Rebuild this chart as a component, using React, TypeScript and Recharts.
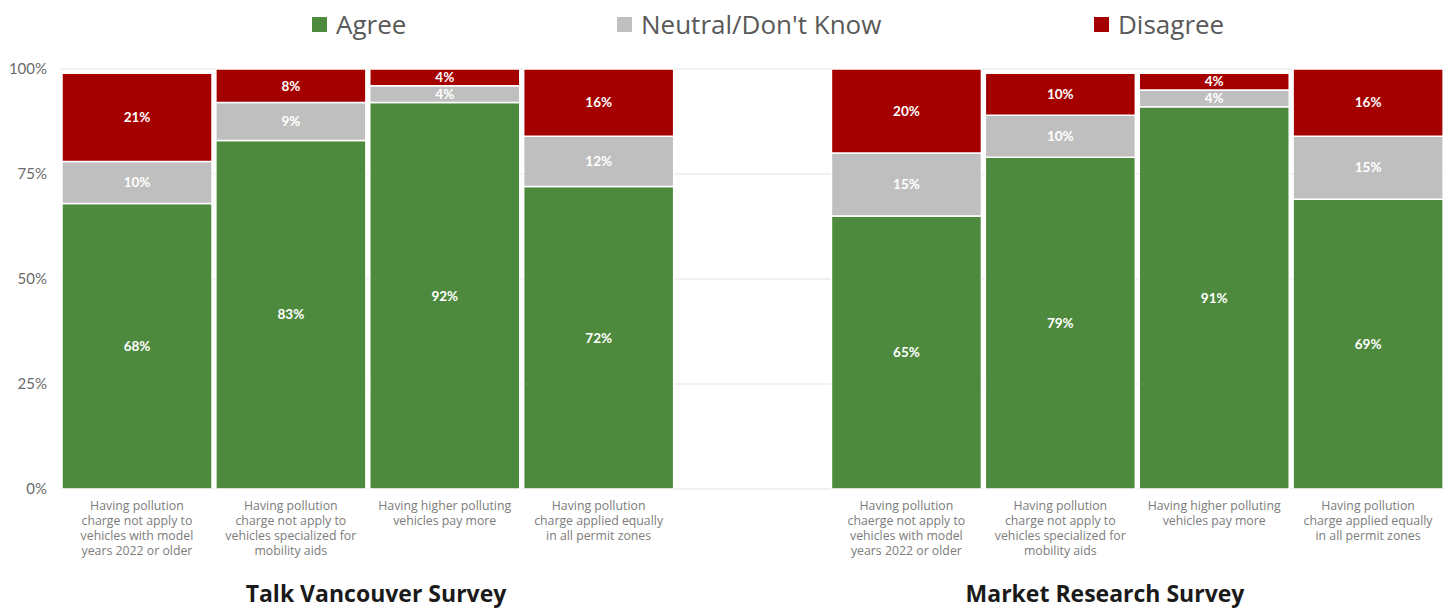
import React from "react";
import { BarChart, Bar, XAxis, YAxis, CartesianGrid, LabelList } from "recharts";

const keys = ["tv1", "tv2", "tv3", "tv4", "gap", "mr1", "mr2", "mr3", "mr4"];
const categories = [
  "Having pollution\ncharge not apply to\nvehicles with model\nyears 2022 or older",
  "Having pollution\ncharge not apply to\nvehicles specialized for\nmobility aids",
  "Having higher polluting\nvehicles pay more",
  "Having pollution\ncharge applied equally\nin all permit zones",
  "",
  "Having pollution\nchaerge not apply to\nvehicles with model\nyears 2022 or older",
  "Having pollution\ncharge not apply to\nvehicles specialized for\nmobility aids",
  "Having higher polluting\nvehicles pay more",
  "Having pollution\ncharge applied equally\nin all permit zones",
];
const agree = [68, 83, 92, 72, null, 65, 79, 91, 69];
const neutral = [10, 9, 4, 12, null, 15, 10, 4, 15];
const disagree = [21, 8, 4, 16, null, 20, 10, 4, 16];
const yTicks = [0, 25, 50, 75, 100];
const surveyTitles = ["Talk Vancouver Survey", "Market Research Survey"];
const legendNames = ["Agree", "Neutral/Don't Know", "Disagree"];

const GREEN = "#4e8a3e";
const GRAY = "#bfbfbf";
const RED = "#a50000";
const legendColors = [GREEN, GRAY, RED];

const data = keys.map((k, i) => ({
  key: k,
  agree: agree[i],
  neutral: neutral[i],
  disagree: disagree[i],
}));

const labelFor = (k: string) => categories[keys.indexOf(k)] || "";

const XTick = (props: any) => {
  const { x, y, payload } = props;
  const lines = labelFor(payload.value).split("\n").filter((l) => l.length);
  return (
    <g>
      {lines.map((l, i) => (
        <text
          key={i}
          x={x}
          y={y + 13 + i * 15}
          textAnchor="middle"
          fill="#7c7c7c"
          fontSize={12.3}
          fontFamily="'Open Sans', sans-serif"
        >
          {l}
        </text>
      ))}
    </g>
  );
};

const pct = (v: any) => (v == null ? "" : `${v}%`);

export default function App() {
  const legendLeft = [312, 617, 1094];
  const titleCenters = [376, 1105];
  return (
    <div
      style={{
        position: "fixed",
        left: 0,
        top: 0,
        width: 1455,
        height: 608,
        background: "#fff",
        overflow: "hidden",
      }}
    >
      {legendNames.map((n, i) => (
        <div
          key={n}
          style={{
            position: "absolute",
            left: legendLeft[i],
            top: 6,
            height: 36,
            display: "flex",
            alignItems: "center",
            fontFamily: "'Open Sans', sans-serif",
            fontSize: 26,
            color: "#595959",
            whiteSpace: "nowrap",
          }}
        >
          <span
            style={{
              display: "inline-block",
              width: 15,
              height: 15,
              background: legendColors[i],
              marginRight: 9,
            }}
          />
          {n}
        </div>
      ))}
      <BarChart
        width={1455}
        height={608}
        data={data}
        margin={{ top: 69, right: 10, bottom: 39, left: 10 }}
        barCategoryGap={2}
      >
        <CartesianGrid vertical={false} stroke="#e3e3e3" />
        <XAxis
          dataKey="key"
          axisLine={false}
          tickLine={false}
          interval={0}
          height={80}
          tick={<XTick />}
        />
        <YAxis
          domain={[0, 100]}
          ticks={yTicks}
          width={50}
          axisLine={false}
          tickLine={false}
          tickMargin={7}
          tickFormatter={(v: number) => `${v}%`}
          tick={{ fill: "#6a6a6a", fontSize: 15, fontFamily: "Lato, sans-serif" }}
        />
        <Bar dataKey="agree" stackId="s" fill={GREEN} stroke="#fff" strokeWidth={1.5} isAnimationActive={false}>
          <LabelList dataKey="agree" position="center" formatter={pct} fill="#fff" fontSize={13.5} fontWeight={700} fontFamily="Lato, sans-serif" />
        </Bar>
        <Bar dataKey="neutral" stackId="s" fill={GRAY} stroke="#fff" strokeWidth={1.5} isAnimationActive={false}>
          <LabelList dataKey="neutral" position="center" formatter={pct} fill="#fff" fontSize={13.5} fontWeight={700} fontFamily="Lato, sans-serif" />
        </Bar>
        <Bar dataKey="disagree" stackId="s" fill={RED} stroke="#fff" strokeWidth={1.5} isAnimationActive={false}>
          <LabelList dataKey="disagree" position="center" formatter={pct} fill="#fff" fontSize={13.5} fontWeight={700} fontFamily="Lato, sans-serif" />
        </Bar>
      </BarChart>
      {surveyTitles.map((t, i) => (
        <div
          key={t}
          style={{
            position: "absolute",
            left: titleCenters[i] - 200,
            width: 400,
            top: 578,
            textAlign: "center",
            fontFamily: "'Open Sans', sans-serif",
            fontWeight: 700,
            fontSize: 23,
            color: "#1a1a1a",
            lineHeight: "30px",
          }}
        >
          {t}
        </div>
      ))}
    </div>
  );
}
